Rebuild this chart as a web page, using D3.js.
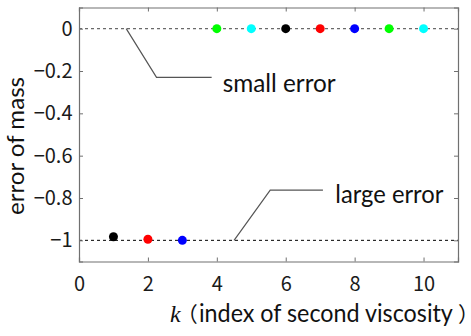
<!DOCTYPE html>
<html>
<head>
<meta charset="utf-8">
<script src="https://cdn.jsdelivr.net/npm/d3@7"></script>
<style>
  html, body { margin: 0; padding: 0; background: #fff; }
  svg { display: block; }
</style>
</head>
<body>
<svg id="chart" width="471" height="336"></svg>
<script>
// Mass error for each index k of the second viscosity
const kValues = [1, 2, 3, 4, 5, 6, 7, 8, 9, 10];
const massError = [-0.983, -0.995, -1.0, 0, 0, 0, 0, 0, 0, 0];
const pointColors = ["#000000", "#ff0000", "#0000ff", "#00ff00", "#00ffff",
                     "#000000", "#ff0000", "#0000ff", "#00ff00", "#00ffff"];
const xTicks = [0, 2, 4, 6, 8, 10];
const yTicks = [0, -0.2, -0.4, -0.6, -0.8, -1];
const refLevels = [0, -1];
// Callouts: leader polyline in data units, then label position
const callouts = [
  { label: "small error", pts: [[1.37, 0], [2.25, -0.23], [3.85, -0.23]], textK: 4.17, textV: -0.298, width: 113 },
  { label: "large error", pts: [[4.5, -1], [5.55, -0.763], [7.08, -0.763]], textK: 7.44, textV: -0.823, width: 108 }
];

const svg = d3.select("#chart");
const margin = { left: 79, right: 13, top: 7.5, bottom: 74.5 };
const W = 471, H = 336;

const x = d3.scaleLinear().domain([0, 11]).range([margin.left, W - margin.right]);
const y = d3.scaleLinear().domain([-1.1, 0.1]).range([H - margin.bottom, margin.top]);

const axisColor = "#707070";
const tickFont = "'Noto Sans CJK JP', 'Noto Sans', sans-serif";
const labelFont = "Lato, 'Open Sans', sans-serif";
const cjkFont = "'Noto Sans CJK JP', sans-serif";
const fmt = d => d === 0 ? "0" : String(d).replace("-", "\u2212");

// Reference dashed lines
svg.append("g").selectAll("line").data(refLevels).join("line")
  .attr("x1", x(0)).attr("x2", x(11))
  .attr("y1", d => y(d)).attr("y2", d => y(d))
  .attr("stroke", d => d === 0 ? "#6a6a6a" : "#000")
  .attr("stroke-width", d => d === 0 ? 1.4 : 1)
  .attr("stroke-dasharray", "3,3");

// Axes with inward ticks
const tickLen = 4;
const axBottom = svg.append("g").attr("transform", `translate(0,${y(-1.1)})`)
  .call(d3.axisBottom(x).tickValues(xTicks).tickSize(-tickLen).tickPadding(15).tickFormat(fmt));
const axTop = svg.append("g").attr("transform", `translate(0,${y(0.1)})`)
  .call(d3.axisTop(x).tickValues(xTicks).tickSize(-tickLen).tickFormat(""));
const axLeft = svg.append("g").attr("transform", `translate(${x(0)},0)`)
  .call(d3.axisLeft(y).tickValues(yTicks).tickSize(-tickLen).tickPadding(6.5).tickFormat(fmt));
const axRight = svg.append("g").attr("transform", `translate(${x(11)},0)`)
  .call(d3.axisRight(y).tickValues(yTicks).tickSize(-tickLen).tickFormat(""));

[axBottom, axTop, axLeft, axRight].forEach(g => {
  g.select(".domain").attr("stroke", axisColor).attr("stroke-width", 1.2);
  g.selectAll(".tick line").attr("stroke", axisColor).attr("stroke-width", 1);
  g.selectAll(".tick text").attr("fill", "#1a1a1a")
    .style("font-family", tickFont).style("font-size", "20px");
});

// Callout leader lines and labels
const line = d3.line().x(d => x(d[0])).y(d => y(d[1]));
callouts.forEach(c => {
  svg.append("path").attr("d", line(c.pts))
    .attr("fill", "none").attr("stroke", "#555").attr("stroke-width", 1.2);
  svg.append("text").attr("x", x(c.textK)).attr("y", y(c.textV))
    .style("font-family", labelFont).style("font-size", "25px")
    .attr("textLength", c.width).attr("lengthAdjust", "spacingAndGlyphs")
    .attr("fill", "#111").text(c.label);
});

// Data points
svg.append("g").selectAll("circle").data(kValues).join("circle")
  .attr("cx", d => x(d))
  .attr("cy", (d, i) => y(massError[i]))
  .attr("r", 4.5)
  .attr("fill", (d, i) => pointColors[i]);

// Axis titles
svg.append("text")
  .attr("transform", `translate(24,146) rotate(-90)`)
  .attr("text-anchor", "middle")
  .style("font-family", labelFont).style("font-size", "24px")
  .attr("textLength", 138).attr("lengthAdjust", "spacingAndGlyphs")
  .attr("fill", "#111").text("error of mass");

// x title: italic k, full-width brackets, condensed sans-serif description
const xBase = 322;
const xt = svg.append("text").attr("x", 170).attr("y", xBase).attr("fill", "#111");
xt.append("tspan").style("font-family", "'Liberation Serif', serif").style("font-style", "italic")
  .style("font-size", "24px").style("letter-spacing", "-4px").text("k");
xt.append("tspan").style("font-family", cjkFont)
  .style("font-size", "21px").style("letter-spacing", "-1px").text("\uFF08");

const desc = svg.append("text").attr("fill", "#111")
  .style("font-family", labelFont).style("font-size", "25px")
  .text("index of second viscosity");
const descWidth = 254;
const sx = descWidth / desc.node().getComputedTextLength();
desc.attr("transform", `translate(199,${xBase}) scale(${sx},1)`);

svg.append("text").attr("x", 458).attr("y", xBase).attr("fill", "#111")
  .style("font-family", cjkFont).style("font-size", "21px")
  .style("letter-spacing", "-12px").text("\uFF09");
</script>
</body>
</html>
